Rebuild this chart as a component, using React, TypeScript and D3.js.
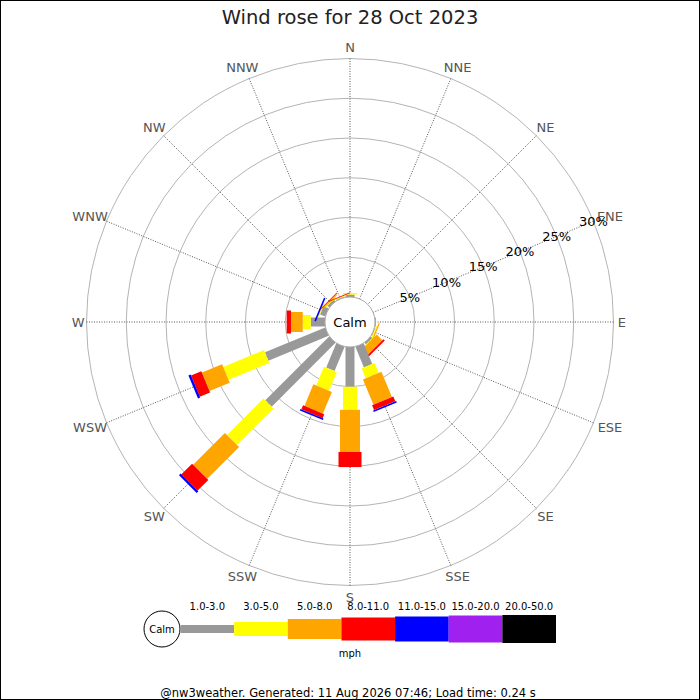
import React from 'react';
import * as d3 from 'd3';

const title = 'Wind rose for 28 Oct 2023';
const footer = '@nw3weather. Generated: 11 Aug 2026 07:46; Load time: 0.24 s';
const unit = 'mph';

const directions = ['N', 'NNE', 'NE', 'ENE', 'E', 'ESE', 'SE', 'SSE', 'S', 'SSW', 'SW', 'WSW', 'W', 'WNW', 'NW', 'NNW'];
const bandLabels = ['1.0-3.0', '3.0-5.0', '5.0-8.0', '8.0-11.0', '11.0-15.0', '15.0-20.0', '20.0-50.0'];
const bandColors = ['#999999', '#ffff00', '#ffa500', '#ff0000', '#0000ff', '#a020f0', '#000000'];
const ringTicks = [5, 10, 15, 20, 25, 30];

// % of time per direction (N .. NNW), one array per speed band
const band1to3 = [0.3, 0, 0, 0, 0.1, 0.1, 0.3, 2.8, 5.0, 3.3, 11.35, 8.2, 1.8, 0.7, 0.3, 0.1];
const band3to5 = [0.2, 0, 0, 0, 0, 0.15, 0.05, 1.35, 2.9, 2.55, 6.5, 5.55, 1.0, 0.15, 0.1, 0.1];
const band5to8 = [0, 0, 0, 0, 0, 0.15, 1.0, 3.45, 5.3, 2.95, 5.65, 2.75, 1.48, 0, 0.15, 0];
const band8to11 = [0, 0, 0, 0, 0, 0, 0.25, 0.65, 1.9, 0.55, 1.9, 1.4, 0.54, 0, 0.1, 0.1];
const band11to15 = [0, 0, 0, 0, 0, 0, 0, 0.2, 0, 0.2, 0.3, 0.3, 0, 0.2, 0, 0];
const band15to20 = [0, 0, 0, 0, 0, 0, 0, 0, 0, 0, 0, 0, 0, 0, 0, 0];
const band20to50 = [0, 0, 0, 0, 0, 0, 0, 0, 0, 0, 0, 0, 0, 0, 0, 0];

const bandValues = [band1to3, band3to5, band5to8, band8to11, band11to15, band15to20, band20to50];

const W = 700;
const H = 700;
const cx = 350;
const cy = 322;
const calmR = 25;
const outerR = 263.5;
const legWidths = [9, 14, 20, 23, 25, 27, 28];
const keyHeights = [8, 14, 20, 23, 25, 27, 28];
const font = 'DejaVu Sans, Verdana, sans-serif';

export default function App() {
	const r = d3.scaleLinear().domain([0, 30]).range([calmR, outerR]);
	const angle = d3.scalePoint<string>().domain(directions).range([0, 360 - 22.5]);
	const rad = (deg: number) => (deg * Math.PI) / 180;

	// stacked segments per direction
	const segments = directions.flatMap((d, i) => {
		let cum = 0;
		return bandValues.map((vals, b) => {
			const v = vals[i];
			const start = cum;
			cum += v;
			return { d, b, start, end: cum, v };
		}).filter((s) => s.v > 0);
	});

	const keyX = d3.scaleBand<string>().domain(bandLabels).range([180.5, 556]);
	const keyY = 629;

	return (
		<svg width={W} height={H} style={{ position: 'absolute', left: 0, top: 0, background: '#fff' }} fontFamily={font}>
			<rect x={0.5} y={0.5} width={W - 1} height={H - 1} fill="#fff" stroke="#000" />
			<text x={cx} y={24} textAnchor="middle" fontSize={19.5} fill="#222">{title}</text>

			{ringTicks.map((t) => (
				<circle key={t} cx={cx} cy={cy} r={r(t)} fill="none" stroke="#b4b4b4" strokeWidth={1} />
			))}
			{directions.map((d) => {
				const a = rad(angle(d) as number);
				return (
					<line key={d}
						x1={cx + calmR * Math.sin(a)} y1={cy - calmR * Math.cos(a)}
						x2={cx + outerR * Math.sin(a)} y2={cy - outerR * Math.cos(a)}
						stroke="#555" strokeWidth={1} strokeDasharray="1 1.5" />
				);
			})}
			{directions.map((d) => {
				const a = rad(angle(d) as number);
				const halfW = d.length * 4.8;
				const x = cx + (267 + halfW) * Math.sin(a);
				const y = cy - 275 * Math.cos(a);
				return (
					<text key={d} x={x} y={y}
						textAnchor="middle" dominantBaseline="central" fontSize={13} fill="#555">{d}</text>
				);
			})}

			{segments.map((s) => (
				<g key={s.d + s.b} transform={`translate(${cx},${cy}) rotate(${angle(s.d)})`}>
					<rect x={-legWidths[s.b] / 2} y={-r(s.end)} width={legWidths[s.b]}
						height={Math.max(r(s.end) - r(s.start), 0.8)} fill={bandColors[s.b]} />
				</g>
			))}

			<circle cx={cx} cy={cy} r={calmR} fill="#fff" stroke="#aaa" />
			<text x={cx} y={cy} textAnchor="middle" dominantBaseline="central" fontSize={13} fill="#000">Calm</text>

			{ringTicks.map((t) => {
				const a = rad(angle('ENE') as number);
				return (
					<text key={t} x={cx + r(t) * Math.sin(a)} y={cy - r(t) * Math.cos(a)} textAnchor="middle"
						dominantBaseline="central" fontSize={13} fill="#000">{t}%</text>
				);
			})}

			<circle cx={162} cy={keyY} r={18} fill="#fff" stroke="#000" />
			<text x={162} y={keyY} textAnchor="middle" dominantBaseline="central" fontSize={10} fill="#000">Calm</text>
			{bandLabels.map((b, i) => (
				<g key={b}>
					<rect x={keyX(b)} y={keyY - keyHeights[i] / 2} width={keyX.bandwidth()} height={keyHeights[i]} fill={bandColors[i]} />
					<text x={(keyX(b) as number) + keyX.bandwidth() / 2} y={610} textAnchor="middle" fontSize={10} fill="#000">{b}</text>
				</g>
			))}
			<text x={cx} y={657} textAnchor="middle" fontSize={10} fill="#000">{unit}</text>
			<text x={348} y={697} textAnchor="middle" fontSize={11.5} fill="#000">{footer}</text>
		</svg>
	);
}
